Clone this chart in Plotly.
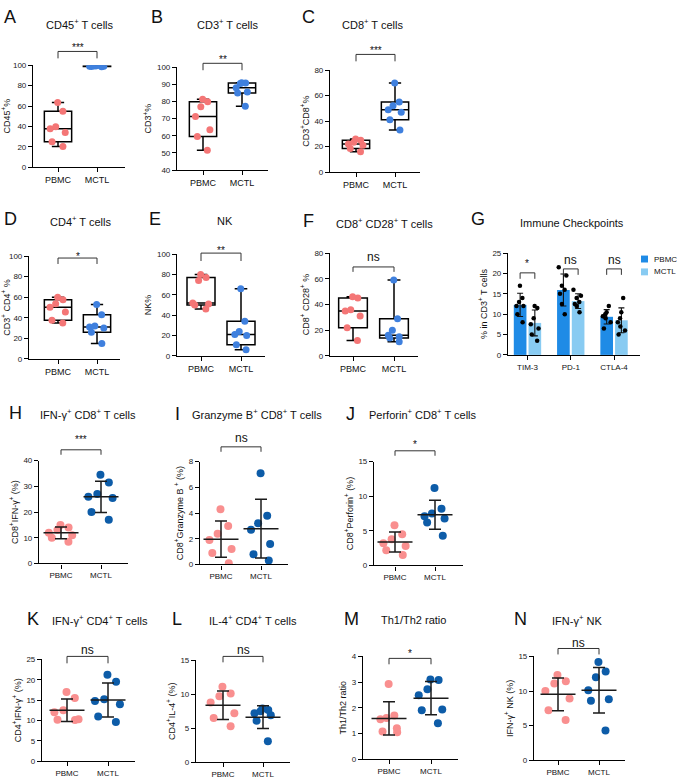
import numpy as np
import plotly.graph_objects as go

W, H = 677, 782
FONT = "Liberation Sans, Arial, Helvetica, sans-serif"

groups = ["PBMC", "MCTL"]
checkpoints = ["TIM-3", "PD-1", "CTLA-4"]

# ---------------- data ----------------
cd45_pbmc = [63.5, 54.8, 39.7, 37.7, 33.9, 24.8, 20.3]
cd45_mctl = [99.0, 99.5, 98.5, 99.0, 99.2, 98.8, 99.3]
cd3_pbmc = [81.3, 79.8, 77.0, 71.2, 63.5, 59.6, 51.5]
cd3_mctl = [91.0, 90.5, 90.8, 88.0, 85.5, 85.0, 77.3]
cd8_pbmc = [26.0, 25.0, 23.5, 22.0, 21.0, 18.5, 16.0]
cd8_mctl = [70.0, 55.0, 52.0, 49.0, 47.0, 41.0, 33.0]
cd4_pbmc = [60.0, 57.4, 53.5, 50.3, 45.5, 37.5, 35.0]
cd4_mctl = [53.0, 43.0, 32.0, 31.0, 30.0, 26.0, 15.0]
nk_pbmc = [80.0, 77.0, 74.0, 52.0, 51.0, 50.0, 46.0]
nk_mctl = [66.0, 34.0, 24.0, 21.0, 20.0, 11.0, 6.0]
cd28_pbmc = [46.0, 45.0, 36.0, 35.0, 31.0, 22.0, 12.0]
cd28_mctl = [59.0, 29.0, 20.0, 16.0, 15.0, 14.0, 11.0]

tim3_pbmc = [17.0, 14.0, 13.0, 12.0, 12.0, 10.0, 8.0]
tim3_mctl = [12.0, 11.5, 9.0, 7.5, 6.5, 5.0, 3.5]
pd1_pbmc = [21.5, 19.5, 17.0, 16.0, 15.0, 12.5, 10.0]
pd1_mctl = [16.0, 14.5, 14.0, 13.0, 12.5, 12.0, 10.5]
ctla4_pbmc = [12.0, 10.5, 10.0, 9.5, 9.0, 8.0, 6.5]
ctla4_mctl = [14.0, 10.5, 9.0, 8.0, 7.0, 6.0, 5.0]

ifng_cd8_pbmc = [15.0, 14.0, 13.0, 12.0, 11.0, 10.0, 8.5]
ifng_cd8_mctl = [34.5, 31.5, 27.0, 26.0, 25.5, 20.0, 17.0]
gzmb_pbmc = [4.3, 3.0, 2.4, 1.9, 1.2, 0.9, 0.1]
gzmb_mctl = [7.1, 3.8, 3.2, 2.7, 1.6, 0.8, 0.3]
prf_pbmc = [5.8, 4.5, 3.8, 3.2, 2.8, 2.2, 1.5]
prf_mctl = [11.2, 8.2, 7.5, 7.1, 6.8, 6.2, 4.3]
ifng_cd4_pbmc = [17.0, 15.5, 12.5, 12.0, 10.3, 10.2, 10.1]
ifng_cd4_mctl = [21.2, 19.5, 15.2, 14.8, 14.0, 11.0, 9.6]
il4_pbmc = [11.1, 10.1, 9.7, 8.8, 7.2, 6.5, 5.3]
il4_mctl = [7.9, 7.7, 7.5, 7.2, 6.9, 6.1, 3.1]
th_ratio_pbmc = [2.93, 1.70, 1.60, 1.55, 1.20, 1.08, 1.05]
th_ratio_mctl = [3.10, 3.08, 2.72, 2.49, 1.93, 1.90, 1.40]
ifng_nk_pbmc = [12.3, 11.4, 11.1, 10.0, 8.9, 7.2, 5.8]
ifng_nk_mctl = [14.2, 12.8, 12.0, 10.1, 8.8, 8.6, 4.3]

sup = "<sup>+</sup>"
panels = [
    dict(L="A", title=f"CD45{sup} T cells", ylab=f"CD45{sup}%", kind="box", d=(cd45_pbmc, cd45_mctl), yr=(0, 100), dt=20, sig="***"),
    dict(L="B", title=f"CD3{sup} T cells", ylab=f"CD3{sup}%", kind="box", d=(cd3_pbmc, cd3_mctl), yr=(40, 100), dt=10, sig="**"),
    dict(L="C", title=f"CD8{sup} T cells", ylab=f"CD3{sup}CD8{sup}%", kind="box", d=(cd8_pbmc, cd8_mctl), yr=(0, 80), dt=20, sig="***"),
    dict(L="D", title=f"CD4{sup} T cells", ylab=f"CD3{sup} CD4{sup} %", kind="box", d=(cd4_pbmc, cd4_mctl), yr=(0, 100), dt=20, sig="*"),
    dict(L="E", title="NK", ylab="NK%", kind="box", d=(nk_pbmc, nk_mctl), yr=(0, 100), dt=20, sig="**"),
    dict(L="F", title=f"CD8{sup} CD28{sup} T cells", ylab=f"CD8{sup} CD28{sup} %", kind="box", d=(cd28_pbmc, cd28_mctl), yr=(0, 80), dt=20, sig="ns"),
    dict(L="G", title="Immune Checkpoints", ylab=f"% in CD3{sup} T cells", kind="bar",
         d=((tim3_pbmc, pd1_pbmc, ctla4_pbmc), (tim3_mctl, pd1_mctl, ctla4_mctl)), yr=(0, 25), dt=5, sig=("*", "ns", "ns")),
    dict(L="H", title=f"IFN-γ{sup} CD8{sup} T cells", ylab=f"CD8{sup}IFN-γ{sup} (%)", kind="mean", d=(ifng_cd8_pbmc, ifng_cd8_mctl), yr=(0, 40), dt=10, sig="***"),
    dict(L="I", title=f"Granzyme B{sup} CD8{sup} T cells", ylab=f"CD8{sup}Granzyme B {sup} (%)", kind="mean", d=(gzmb_pbmc, gzmb_mctl), yr=(0, 8), dt=2, sig="ns"),
    dict(L="J", title=f"Perforin{sup} CD8{sup} T cells", ylab=f"CD8{sup}Perforin{sup} (%)", kind="mean", d=(prf_pbmc, prf_mctl), yr=(0, 15), dt=5, sig="*"),
    dict(L="K", title=f"IFN-γ{sup} CD4{sup} T cells", ylab=f"CD4{sup}IFN-γ{sup} (%)", kind="mean", d=(ifng_cd4_pbmc, ifng_cd4_mctl), yr=(0, 25), dt=5, sig="ns"),
    dict(L="L", title=f"IL-4{sup} CD4{sup} T cells", ylab=f"CD4{sup}IL-4{sup} (%)", kind="mean", d=(il4_pbmc, il4_mctl), yr=(0, 15), dt=5, sig="ns"),
    dict(L="M", title="Th1/Th2 ratio", ylab="Th1/Th2 ratio", kind="mean", d=(th_ratio_pbmc, th_ratio_mctl), yr=(0, 4), dt=1, sig="*"),
    dict(L="N", title=f"IFN-γ{sup} NK", ylab=f"IFN-γ{sup} NK (%)", kind="mean", d=(ifng_nk_pbmc, ifng_nk_mctl), yr=(0, 15), dt=5, sig="ns"),
]

# ---------------- geometry (pixels) ----------------
geo = {
    "A": dict(l=33, r=125, t=62, b=165, c0=58, c1=97, tx=80, ty=20, lx=10, ly=13, sy=(44, 48, 55)),
    "B": dict(l=177, r=268, t=64, b=168, c0=203, c1=242, tx=227, ty=20, lx=157, ly=13, sy=(56, 60, 67)),
    "C": dict(l=330, r=420, t=67, b=170, c0=356, c1=395, tx=372, ty=20, lx=308, ly=13, sy=(47, 51, 58)),
    "D": dict(l=29, r=120, t=255, b=359, c0=58, c1=97, tx=80, ty=220, lx=10, ly=218, sy=(255, 257, 263)),
    "E": dict(l=177, r=265, t=253, b=356, c0=201, c1=241, tx=225, ty=220, lx=155, ly=218, sy=(249, 252, 260)),
    "F": dict(l=330, r=418, t=252, b=356, c0=353, c1=394, tx=384, ty=222, lx=308, ly=220, sy=(256, 266, 271)),
    "G": dict(l=508, r=640, t=252, b=355, r0=-0.45, r1=2.6, tx=572, ty=222, lx=478, ly=218,
              sy=((263, 272, 278), (259, 268, 274), (259, 268, 274)), legx=641, legy=(258, 271)),
    "H": dict(l=39, r=128, t=462, b=566, c0=61, c1=101, tx=88, ty=415, lx=15, ly=414, sy=(441, 451, 456)),
    "I": dict(l=200, r=288, t=463, b=567, c0=221, c1=261, tx=257, ty=415, lx=177, ly=415, sy=(439, 448, 453)),
    "J": dict(l=374, r=463, t=463, b=568, c0=395, c1=435, tx=423, ty=415, lx=350, ly=415, sy=(446, 452, 457)),
    "K": dict(l=42, r=135, t=663, b=766, c0=67, c1=108, tx=100, ty=623, lx=33, ly=622, sy=(654, 660, 667)),
    "L": dict(l=196, r=290, t=664, b=767, c0=223, c1=263, tx=253, ty=623, lx=177, ly=622, sy=(654, 660, 666)),
    "M": dict(l=363, r=458, t=660, b=764, c0=389, c1=431, tx=413, ty=623, lx=352, ly=622, sy=(657, 662, 668)),
    "N": dict(l=534, r=625, t=660, b=765, c0=558, c1=599, tx=577, ty=623, lx=520, ly=622, sy=(646, 652, 658)),
}

C_P1, C_M1 = "#F47676", "#3F80DE"      # rows 1-2 dots
C_P2, C_M2 = "#F98F8F", "#0D5CA8"      # rows 3-4 dots
C_BAR_P, C_BAR_M = "#1F8BE6", "#88CBF2"
INK = "#1a1a1a"
BARGAP = 0.32


def px_x(v):
    return v / W


def px_y(v):
    return 1 - v / H


def box_stats(v):
    s = np.sort(np.asarray(v, float))
    n = len(s)
    lo, hi = s[: n // 2], s[(n + 1) // 2:]
    return dict(lowerfence=[s[0]], q1=[float(np.median(lo))], median=[float(np.median(s))],
                q3=[float(np.median(hi))], upperfence=[s[-1]])


fig = go.Figure()
shapes, anns = [], []
lay = {}

for i, p in enumerate(panels, start=1):
    g = geo[p["L"]]
    xa = "x" if i == 1 else f"x{i}"
    ya = "y" if i == 1 else f"y{i}"
    row34 = p["kind"] == "mean"
    cats = checkpoints if p["kind"] == "bar" else groups
    if p["kind"] == "bar":
        r0, r1 = g["r0"], g["r1"]
    else:
        u = g["c1"] - g["c0"]
        r0, r1 = (g["l"] - g["c0"]) / u, (g["r"] - g["c0"]) / u

    lay["xaxis" if i == 1 else f"xaxis{i}"] = dict(
        domain=[px_x(g["l"]), px_x(g["r"])], anchor=ya, type="category",
        categoryorder="array", categoryarray=cats, range=[r0, r1],
        showline=True, linecolor="black", linewidth=1.2, ticks="outside", ticklen=4,
        tickwidth=1.1, tickcolor="black", showgrid=False, zeroline=False,
        tickfont=dict(size=8 if (row34 or p["kind"] == "bar") else 9, color="#111"), fixedrange=True)
    y0, y1 = p["yr"]
    lay["yaxis" if i == 1 else f"yaxis{i}"] = dict(
        domain=[px_y(g["b"]), px_y(g["t"])], anchor=xa, range=[y0, y1],
        tickvals=list(np.arange(y0, y1 + p["dt"] / 2, p["dt"])),
        showline=True, linecolor="black", linewidth=1.2, ticks="outside", ticklen=4,
        tickwidth=1.1, tickcolor="black", showgrid=False, zeroline=False,
        tickfont=dict(size=8, color="#222"),
        title=dict(text=p["ylab"], font=dict(size=9, color="#111"), standoff=3),
        fixedrange=True)

    if p["kind"] in ("box", "mean"):
        cols = (C_P2, C_M2) if row34 else (C_P1, C_M1)
        for grp, vals, col in zip(groups, p["d"], cols):
            if p["kind"] == "box":
                fig.add_trace(go.Box(x=[grp], **box_stats(vals), xaxis=xa, yaxis=ya, width=0.7,
                                     whiskerwidth=0.45, boxpoints=False, fillcolor="rgba(0,0,0,0)",
                                     line=dict(color="black", width=1.5), showlegend=False, hoverinfo="skip"))
            fig.add_trace(go.Box(x=[grp] * len(vals), y=vals, xaxis=xa, yaxis=ya,
                                 width=0.75 if row34 else 0.65,
                                 boxpoints="all", jitter=1.0 if row34 else 0.75, pointpos=0,
                                 fillcolor="rgba(0,0,0,0)", line=dict(color="rgba(0,0,0,0)", width=0),
                                 whiskerwidth=0, marker=dict(color=col, size=8 if row34 else 7),
                                 showlegend=False, hoverinfo="skip"))
            if p["kind"] == "mean":
                arr = np.asarray(vals, float)
                fig.add_trace(go.Scatter(x=[grp], y=[arr.mean()], xaxis=xa, yaxis=ya, mode="markers",
                                         marker=dict(symbol="line-ew-open", size=25, color=INK,
                                                     line=dict(color=INK, width=1.5)),
                                         error_y=dict(type="data", array=[arr.std(ddof=1)], color=INK,
                                                      thickness=1.5, width=6),
                                         cliponaxis=False, showlegend=False, hoverinfo="skip"))
        ty, bt, bb = g["sy"]
        shapes.append(dict(type="path", xref=xa, yref="paper",
                           path=f"M 0,{px_y(bb)} L 0,{px_y(bt)} L 1,{px_y(bt)} L 1,{px_y(bb)}",
                           line=dict(color="#333", width=1)))
        anns.append(dict(x=0.5, xref=xa, y=px_y(ty), yref="paper", text=p["sig"], showarrow=False,
                         font=dict(size=12 if p["sig"] == "ns" else 10, color="#111"), yanchor="middle"))
    else:
        pb, mc = p["d"]
        half = (1 - BARGAP) / 2
        for name, sets, col in (("PBMC", pb, C_BAR_P), ("MCTL", mc, C_BAR_M)):
            means = [float(np.mean(s)) for s in sets]
            sds = [float(np.std(s, ddof=1)) for s in sets]
            fig.add_trace(go.Bar(x=checkpoints, y=means, name=name, xaxis=xa, yaxis=ya,
                                 marker=dict(color=col, line=dict(width=0)),
                                 error_y=dict(type="data", array=sds, color="#111", thickness=1.1, width=3),
                                 showlegend=False, hoverinfo="skip"))
        for name, sets, side in (("PBMC", pb, -1), ("MCTL", mc, 1)):
            xs, ys = [], []
            for c, s in zip(checkpoints, sets):
                xs += [c] * len(s)
                ys += list(s)
            fig.add_trace(go.Box(x=xs, y=ys, xaxis=xa, yaxis=ya, width=half, boxpoints="all",
                                 jitter=0.65, pointpos=side, fillcolor="rgba(0,0,0,0)",
                                 line=dict(color="rgba(0,0,0,0)", width=0), whiskerwidth=0,
                                 marker=dict(color="black", size=4.5), showlegend=False, hoverinfo="skip"))
        for k, (sg, (ty, bt, bb)) in enumerate(zip(p["sig"], g["sy"])):
            a, b = k - half / 2, k + half / 2
            shapes.append(dict(type="path", xref=xa, yref="paper",
                               path=f"M {a},{px_y(bb)} L {a},{px_y(bt)} L {b},{px_y(bt)} L {b},{px_y(bb)}",
                               line=dict(color="#333", width=1)))
            anns.append(dict(x=k, xref=xa, y=px_y(ty), yref="paper", text=sg, showarrow=False,
                             font=dict(size=12 if sg == "ns" else 10, color="#111"), yanchor="middle"))
        # compact legend (small squares + labels)
        for name, col, yy in (("PBMC", C_BAR_P, g["legy"][0]), ("MCTL", C_BAR_M, g["legy"][1])):
            shapes.append(dict(type="rect", xref="paper", yref="paper",
                               x0=px_x(g["legx"]), x1=px_x(g["legx"] + 7),
                               y0=px_y(yy + 3.5), y1=px_y(yy - 3.5),
                               fillcolor=col, line=dict(width=0)))
            anns.append(dict(x=px_x(g["legx"] + 11), y=px_y(yy), xref="paper", yref="paper", text=name,
                             showarrow=False, font=dict(size=8, color="#111"), xanchor="left", yanchor="middle"))

    anns.append(dict(x=px_x(g["tx"]), y=px_y(g["ty"]), xref="paper", yref="paper", text=p["title"],
                     showarrow=False, font=dict(size=11, color="#111"), xanchor="center", yanchor="middle"))
    anns.append(dict(x=px_x(g["lx"]), y=px_y(g["ly"]), xref="paper", yref="paper", text=p["L"],
                     showarrow=False, font=dict(size=18, color="#111"), xanchor="center", yanchor="middle"))

fig.update_layout(
    width=W, height=H, margin=dict(l=0, r=0, t=0, b=0),
    paper_bgcolor="white", plot_bgcolor="white",
    font=dict(family=FONT, color="#111"),
    boxmode="overlay", barmode="group", bargap=BARGAP, bargroupgap=0.14,
    shapes=shapes, annotations=anns, showlegend=False,
    **lay,
)

fig.write_html("out.html")
